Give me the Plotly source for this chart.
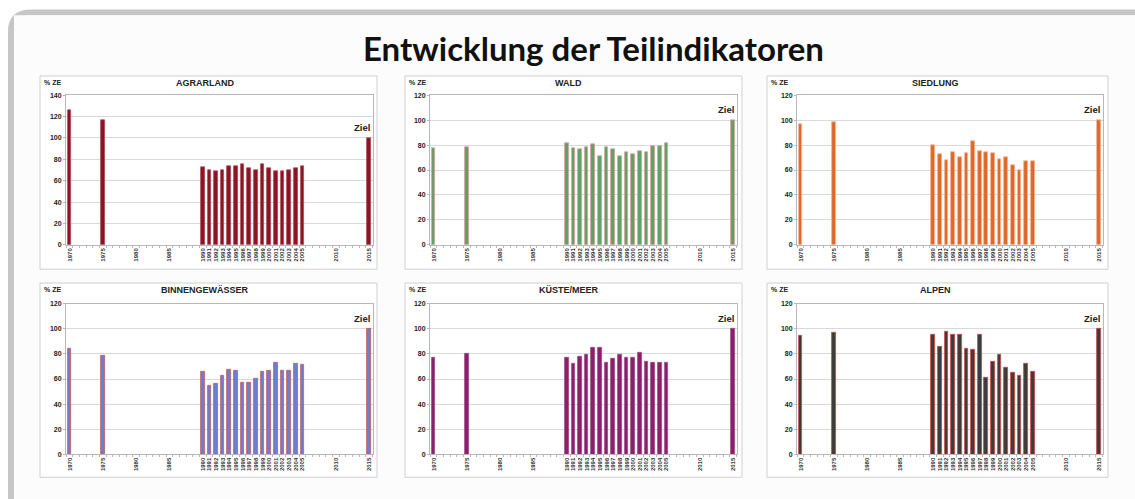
import plotly.graph_objects as go

W, H = 1135, 499

years_all = list(range(1970, 2016))
label_years = [1970, 1975, 1980, 1985] + list(range(1990, 2006)) + [2010, 2015]
data_years = [1970, 1975] + list(range(1990, 2006)) + [2015]

agrarland = [126, 117, 72.5, 70, 69, 69.5, 73.5, 73.5, 75.5, 71.5, 69.5, 75.5, 72, 69, 69, 69.5, 72, 73.5, 100]
wald = [77.5, 78.5, 81.5, 77.5, 77, 78, 80.5, 71, 78, 76.5, 71, 74.5, 73, 75.5, 74, 79, 79, 81.5, 100]
siedlung = [97, 98.7, 80, 72.5, 68, 74, 70.5, 73.5, 83.5, 75.5, 74, 73.3, 69, 70.5, 64, 59.5, 67, 67, 100]
binnen = [84, 78.3, 66, 55, 56.5, 63, 67.3, 66.8, 57, 57, 60.5, 66, 66.8, 73.2, 66.5, 66.5, 72.5, 71.5, 100]
kueste = [76.8, 80, 77, 72, 77.8, 79, 85, 85, 73, 76.5, 79.5, 76.8, 76.8, 81, 74, 73, 73, 73, 100]
alpen = [94.3, 96.6, 95, 86, 97.3, 95.5, 95.5, 84, 83.3, 95.5, 60.8, 74, 79, 69, 65, 62.8, 72.3, 65.8, 100]

panels = [
    ("AGRARLAND", agrarland, "#8a1426", "#b04a58", 140),
    ("WALD", wald, "#5fa266", "#d8a0a0", 120),
    ("SIEDLUNG", siedlung, "#e0692a", "#f2b492", 120),
    ("BINNENGEWÄSSER", binnen, "#6a7ed2", "#c45a5a", 120),
    ("KÜSTE/MEER", kueste, "#8a1f6c", "#a04a88", 120),
    ("ALPEN", alpen, "#3c3c3c", "#c84848", 120),
]

# layout geometry in pixels
plot_x = [(66, 373), (430, 737), (797, 1103)]
plot_y = [(92.5, 244.3), (304, 456.7)]
box_x = [(40, 377), (405, 742), (767, 1108)]
box_y = [(73, 269), (283, 480)]

def px(x):
    return x / W

def py(y):
    return 1 - y / H

fig = go.Figure()
shapes = []
annotations = []

# outer frame
shapes.append(dict(type="path", xref="paper", yref="paper",
                   path=f"M {px(11)},{py(560)} L {px(11)},{py(28)} Q {px(11)},{py(8.5)} {px(31)},{py(8.5)} L {px(1160)},{py(8.5)}",
                   line=dict(color="#c6c6c6", width=6), fillcolor="rgba(0,0,0,0)", layer="below"))
shapes.append(dict(type="rect", xref="paper", yref="paper",
                   x0=px(14), x1=px(1140), y0=py(520), y1=py(11.5),
                   line=dict(width=0), fillcolor="#fcfcfc", layer="below"))

annotations.append(dict(text="<b>Entwicklung der Teilindikatoren</b>", xref="paper", yref="paper",
                        x=px(593), y=py(45), xanchor="center", yanchor="middle", showarrow=False,
                        font=dict(family="Lato", size=33, color="#111111")))

for i, (name, vals, fill, edge, ymax) in enumerate(panels):
    r, c = divmod(i, 3)
    ax = "" if i == 0 else str(i + 1)
    xa, ya = "x" + ax, "y" + ax
    fig.add_trace(go.Bar(x=data_years, y=vals, width=0.55, xaxis=xa, yaxis=ya,
                         marker=dict(color=fill, line=dict(color=edge, width=0.8)),
                         showlegend=False, hoverinfo="x+y"))
    (x0, x1), (y0, y1) = plot_x[c], plot_y[r]
    fig.layout["xaxis" + ax] = dict(
        domain=[px(x0), px(x1)], anchor=ya, range=[1969.45, 2015.6],
        tickmode="array", tickvals=label_years, ticktext=[str(y) for y in label_years],
        tickangle=-90, tickfont=dict(family="Arial", size=6, color="#333333", weight="bold"),
        ticks="", showgrid=False, zeroline=False,
        showline=True, linecolor="#b8b8b8", linewidth=1, mirror=True,
        minor=dict(tick0=1969.5, dtick=1, ticks="outside", ticklen=2, tickcolor="#b8b8b8", showgrid=False),
        fixedrange=True)
    fig.layout["yaxis" + ax] = dict(
        domain=[py(y1), py(y0)], anchor=xa, range=[0, ymax], dtick=20,
        tickfont=dict(family="Arial", size=7, color="#222222", weight="bold"),
        ticks="outside", ticklen=2, tickcolor="#b8b8b8",
        showgrid=True, gridcolor="#d9d9d9", gridwidth=1, zeroline=False,
        showline=True, linecolor="#b8b8b8", linewidth=1, mirror=True,
        fixedrange=True)
    bx0, bx1 = box_x[c]
    by0, by1 = box_y[r]
    shapes.append(dict(type="rect", xref="paper", yref="paper",
                       x0=px(bx0), x1=px(bx1), y0=py(by1), y1=py(by0),
                       line=dict(color="#cfcfcf", width=1), fillcolor="#ffffff", layer="below"))
    annotations.append(dict(text=f"<b>{name}</b>", xref="paper", yref="paper",
                            x=px((x0 + x1) / 2 - 15), y=py(by0 + 7.5), xanchor="center", yanchor="middle",
                            showarrow=False, font=dict(family="Arial", size=9, color="#222222")))
    annotations.append(dict(text="<b>% ZE</b>", xref="paper", yref="paper",
                            x=px(bx0 + 2), y=py(by0 + 6.5), xanchor="left", yanchor="middle",
                            showarrow=False, font=dict(family="Arial", size=7, color="#222222")))
    annotations.append(dict(text="<b>Ziel</b>", xref=xa, yref=ya, x=2015, y=100,
                            xanchor="right", yanchor="bottom", xshift=3, yshift=3,
                            showarrow=False, font=dict(family="Arial", size=9.5, color="#222222")))

fig.update_layout(width=W, height=H, margin=dict(l=0, r=0, t=0, b=0),
                  paper_bgcolor="#ffffff", plot_bgcolor="rgba(0,0,0,0)",
                  bargap=0, shapes=shapes, annotations=annotations)

fig.write_html("out.html", config={"displayModeBar": False},
               post_script="document.body.style.margin='0';document.body.style.overflow='hidden';")
